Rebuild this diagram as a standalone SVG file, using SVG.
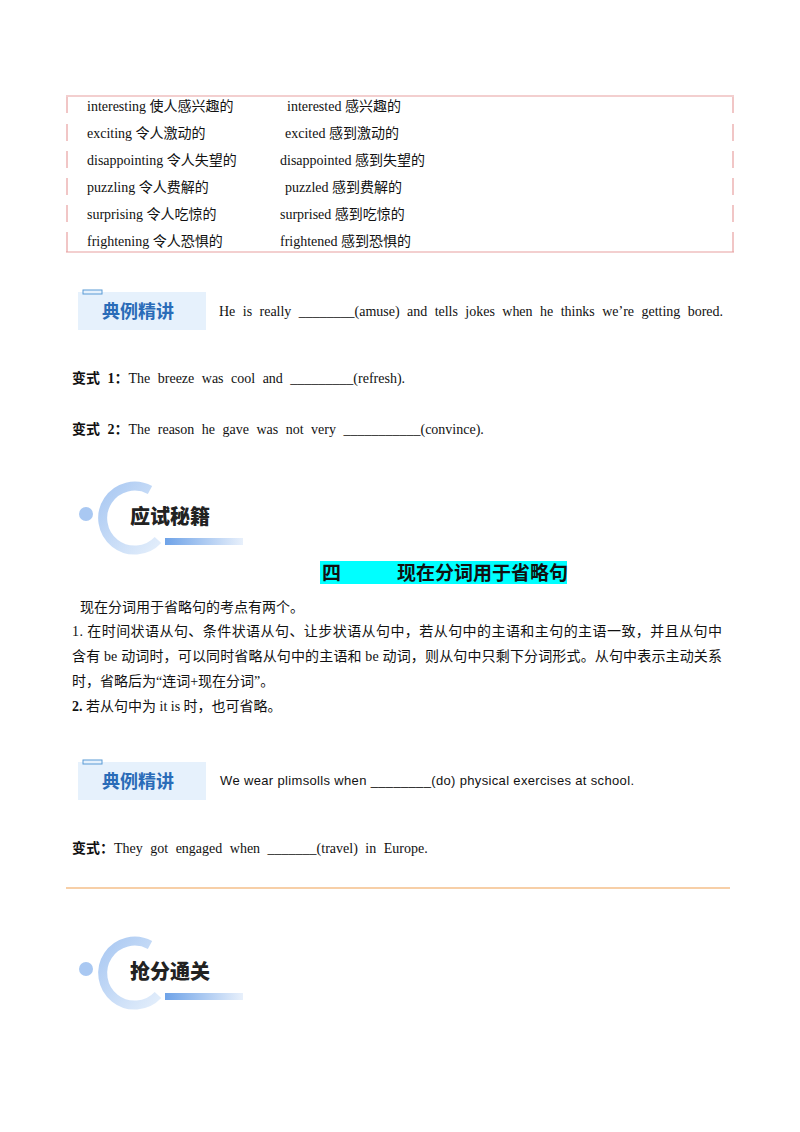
<svg xmlns="http://www.w3.org/2000/svg" width="800" height="1132" viewBox="0 0 800 1132">
<defs>
<style>
.t{font-family:"Liberation Serif","Noto Sans CJK SC",serif;font-size:14px;fill:#111}
.s{font-family:"Liberation Sans","Noto Sans CJK SC",sans-serif;font-size:13px;fill:#111}
.b{font-weight:bold}
.bt{font-family:"Noto Sans CJK SC",sans-serif;font-weight:bold;font-size:18px;fill:#2a6cb8}
.lg{font-family:"Noto Sans CJK SC",sans-serif;font-weight:900;font-size:20px;fill:#222}
.tb{stroke:#e8a0a0;stroke-width:1.2;fill:none}
.w{word-spacing:4px}
</style>
<linearGradient id="bar" x1="0" x2="1"><stop offset="0" stop-color="#6fa3e8"/><stop offset="1" stop-color="#e8f0fb"/></linearGradient>
<linearGradient id="arc" x1="0" y1="0" x2="1" y2="1"><stop offset="0" stop-color="#a9c8f2"/><stop offset="1" stop-color="#e3eefb"/></linearGradient>
</defs>
<rect width="800" height="1132" fill="#fff"/>
<g id="table">
<line class="tb" x1="66" y1="96" x2="734" y2="96"/>
<line class="tb" x1="66" y1="252" x2="734" y2="252"/>
<line class="tb" x1="67" y1="97" x2="67" y2="113"/><line class="tb" x1="67" y1="124" x2="67" y2="141"/><line class="tb" x1="67" y1="151" x2="67" y2="168"/><line class="tb" x1="67" y1="178" x2="67" y2="195"/><line class="tb" x1="67" y1="205" x2="67" y2="222"/><line class="tb" x1="67" y1="232" x2="67" y2="252"/>
<line class="tb" x1="733" y1="97" x2="733" y2="113"/><line class="tb" x1="733" y1="124" x2="733" y2="141"/><line class="tb" x1="733" y1="151" x2="733" y2="168"/><line class="tb" x1="733" y1="178" x2="733" y2="195"/><line class="tb" x1="733" y1="205" x2="733" y2="222"/><line class="tb" x1="733" y1="232" x2="733" y2="252"/>
<text class="t" x="87" y="111">interesting  使人感兴趣的</text><text class="t" x="287" y="111">interested 感兴趣的</text>
<text class="t" x="87" y="138">exciting 令人激动的</text><text class="t" x="285" y="138">excited 感到激动的</text>
<text class="t" x="87" y="165">disappointing 令人失望的</text><text class="t" x="280" y="165">disappointed 感到失望的</text>
<text class="t" x="87" y="192">puzzling 令人费解的</text><text class="t" x="285" y="192">puzzled 感到费解的</text>
<text class="t" x="87" y="219">surprising 令人吃惊的</text><text class="t" x="280" y="219">surprised 感到吃惊的</text>
<text class="t" x="87" y="246">frightening 令人恐惧的</text><text class="t" x="280" y="246">frightened 感到恐惧的</text>
</g>
<g id="badge1">
<rect x="78" y="292" width="128" height="38" fill="#e6f1fc"/>
<rect x="83" y="290" width="19" height="4" fill="#e6f1fc" stroke="#5b9bd5" stroke-width="1"/>
<text class="bt" x="102" y="318">典例精讲</text>
</g>
<text class="t w" x="219" y="316" textLength="504" lengthAdjust="spacing">He is really ________(amuse) and tells jokes when he thinks we’re getting bored.</text>
<text class="t w" x="72" y="383"><tspan class="b">变式 1：</tspan>The breeze was cool and _________(refresh).</text>
<text class="t w" x="72" y="434"><tspan class="b">变式 2：</tspan>The reason he gave was not very ___________(convince).</text>
<g id="logo1">
<path d="M150,490 A32,32 0 1 0 158,540" fill="none" stroke="url(#arc)" stroke-width="9"/>
<circle cx="86" cy="514" r="7" fill="#a9c8f2"/>
<rect x="165" y="538" width="78" height="7" fill="url(#bar)"/>
<text class="lg" x="130" y="524">应试秘籍</text>
</g>
<g id="heading">
<rect x="320" y="561" width="247" height="23" fill="#00ffff"/>
<text class="t b" x="322" y="580" style="font-size:19px">四</text>
<text class="t b" x="397" y="580" style="font-size:19px">现在分词用于省略句</text>
</g>
<text class="t" x="80" y="612">现在分词用于省略句的考点有两个。</text>
<text class="t" x="72" y="636" textLength="650" lengthAdjust="spacing">1.  在时间状语从句、条件状语从句、让步状语从句中，若从句中的主语和主句的主语一致，并且从句中</text>
<text class="t" x="72" y="661" textLength="650" lengthAdjust="spacing">含有 be 动词时，可以同时省略从句中的主语和 be 动词，则从句中只剩下分词形式。从句中表示主动关系</text>
<text class="t" x="72" y="686">时，省略后为“连词+现在分词”。</text>
<text class="t" x="72" y="711"><tspan class="b">2.</tspan>  若从句中为 it  is 时，也可省略。</text>
<g id="badge2">
<rect x="78" y="762" width="128" height="38" fill="#e6f1fc"/>
<rect x="83" y="760" width="19" height="4" fill="#e6f1fc" stroke="#5b9bd5" stroke-width="1"/>
<text class="bt" x="102" y="788">典例精讲</text>
</g>
<text class="s" x="220" y="785" textLength="414" lengthAdjust="spacing">We wear plimsolls when ________(do) physical exercises at school.</text>
<text class="t w" x="72" y="853"><tspan class="b">变式：</tspan>They got engaged when _______(travel) in Europe.</text>
<line x1="66" y1="888" x2="730" y2="888" stroke="#f0a050" stroke-width="1.2"/>
<g id="logo2">
<path d="M150,945 A32,32 0 1 0 158,995" fill="none" stroke="url(#arc)" stroke-width="9"/>
<circle cx="86" cy="969" r="7" fill="#a9c8f2"/>
<rect x="165" y="993" width="78" height="7" fill="url(#bar)"/>
<text class="lg" x="130" y="979">抢分通关</text>
</g>
</svg>
